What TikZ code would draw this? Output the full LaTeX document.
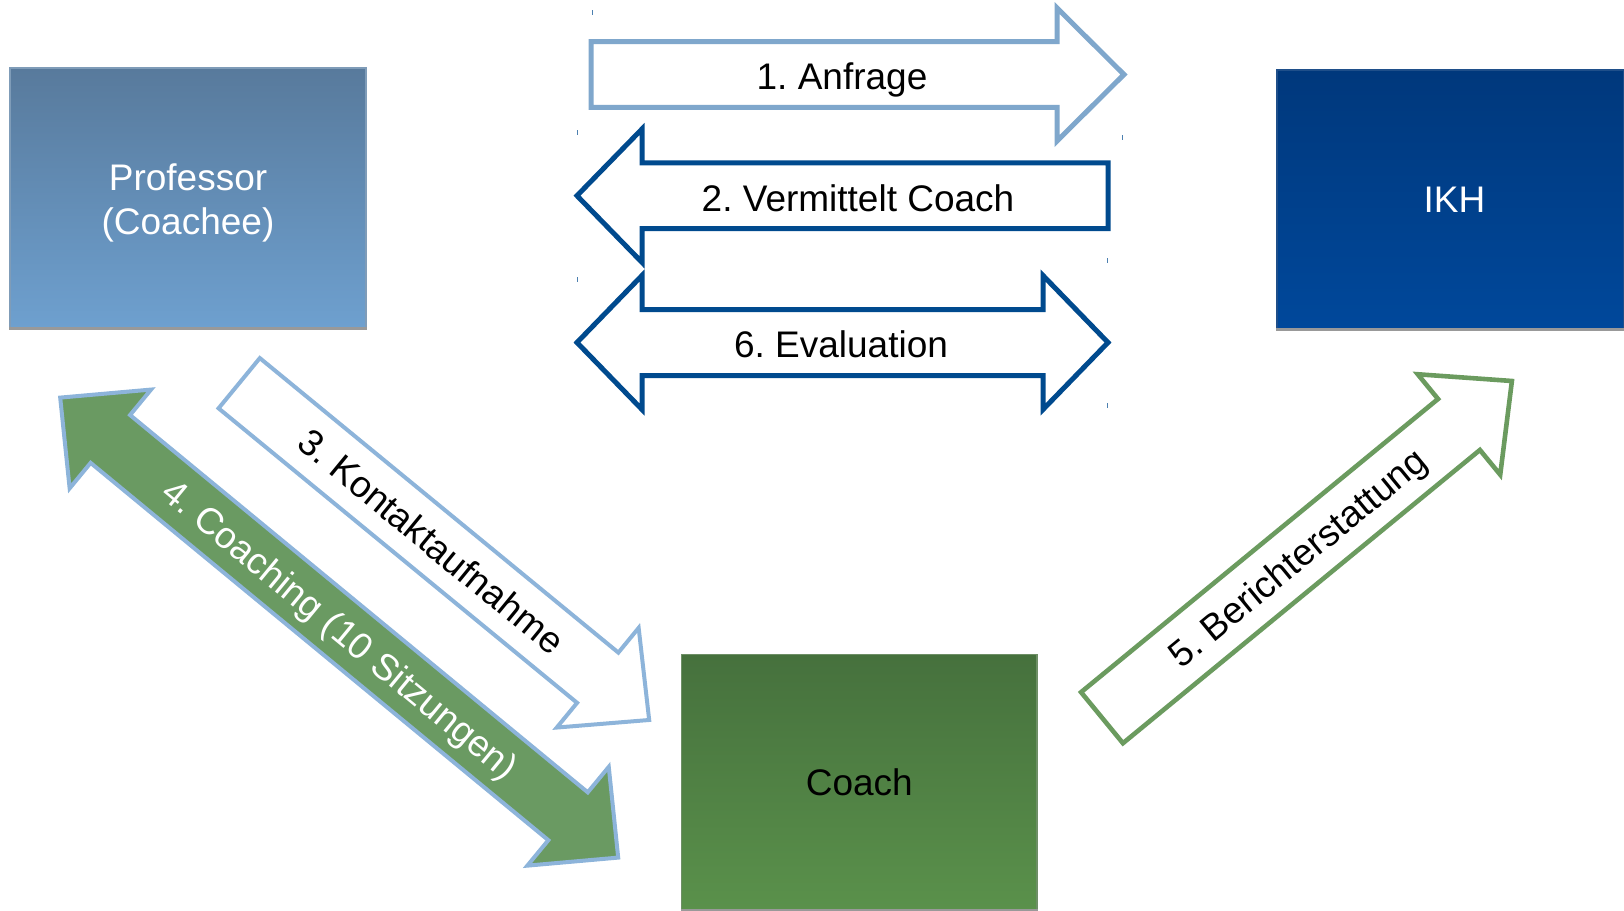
\documentclass[tikz,border=0pt]{standalone}
\usepackage{fontspec}
\setmainfont{Liberation Sans}

\definecolor{profTop}{HTML}{587A9C}
\definecolor{profBot}{HTML}{6EA0CF}
\definecolor{profEdge}{HTML}{7F9CB8}
\definecolor{ikhTop}{HTML}{00387C}
\definecolor{ikhBot}{HTML}{00489B}
\definecolor{ikhEdge}{HTML}{1F4F8A}
\definecolor{coachTop}{HTML}{46713D}
\definecolor{coachBot}{HTML}{5A914B}
\definecolor{coachEdge}{HTML}{6E8F66}
\definecolor{paleBlue}{HTML}{7FA7CC}
\definecolor{skyBlue}{HTML}{8DB4DA}
\definecolor{navy}{HTML}{004A8E}
\definecolor{leaf}{HTML}{6B9B5F}
\definecolor{leafFill}{HTML}{6A9A62}

\tikzset{
  every node/.style={font=\fontsize{18.5}{22.3}\selectfont},
  box/.style={rectangle, draw=#1, line width=0.6pt, inner sep=0pt},
  boxtext/.style={text=white, align=center, yshift=-2.5pt},
  shadowline/.style={draw=black!40, line width=1.5pt},
  lbl/.style={text height=13.2pt, text depth=0pt, inner sep=0pt},
  reqarrow/.style={draw=paleBlue, line width=2.5pt, fill=white},
  navyarrow/.style={draw=navy, line width=2.5pt, fill=white},
  contactarrow/.style={draw=skyBlue, line width=2pt, fill=white},
  sessionarrow/.style={draw=skyBlue, line width=2pt, fill=leafFill},
  reportarrow/.style={draw=leaf, line width=2.3pt, fill=white},
  tickmark/.style={draw=navy!70, line width=0.5pt}
}

\begin{document}
\frenchspacing
\begin{tikzpicture}[x=0.5pt,y=-0.5pt]
\useasboundingbox (0,0) rectangle (1624,911);

% the three parties
\node[box=profEdge, top color=profTop, bottom color=profBot, minimum width=178pt, minimum height=130pt,
  label={[boxtext]center:Professor\\(Coachee)}] (prof) at (188,198) {};
\node[box=ikhEdge, top color=ikhTop, bottom color=ikhBot, minimum width=173.5pt, minimum height=129.5pt,
  label={[boxtext, xshift=2pt, yshift=2.5pt]center:IKH}] (ikh) at (1450.5,199.5) {};
\node[box=coachEdge, top color=coachTop, bottom color=coachBot, minimum width=177.75pt, minimum height=127.7pt,
  label={[boxtext, text=black, yshift=2.5pt]center:Coach}] (coach) at (859.3,782.3) {};
\draw[shadowline] (prof.south west) -- (prof.south east);
\draw[shadowline] (ikh.south west) -- (ikh.south east);
\draw[shadowline] (coach.south west) -- (coach.south east);

% 1. Anfrage
\draw[reqarrow] (591,41.7) -- (1057,41.7) -- (1057,8) -- (1124,74.5) -- (1057,141) -- (1057,107.3) -- (591,107.3) -- cycle;
\node[lbl] (anfrage) at (842,76) {1. Anfrage};

% 2. Vermittelt Coach
\draw[navyarrow] (577,195.7) -- (642,129) -- (642,162.9) -- (1108,162.9) -- (1108,228.5) -- (642,228.5) -- (642,262.4) -- cycle;
\node[lbl] (vermittelt) at (858,198) {2. Vermittelt Coach};

% 6. Evaluation
\draw[navyarrow] (577,342.5) -- (642,275.5) -- (642,309.5) -- (1043,309.5) -- (1043,275.5) -- (1108,342.5) -- (1043,409.5) -- (1043,375.5) -- (642,375.5) -- (642,409.5) -- cycle;
\node[lbl] (evaluation) at (841,344) {6. Evaluation};

% 3. Kontaktaufnahme
\begin{scope}[shift={(239.2,383.2)}, rotate=-39.4]
  \draw[contactarrow] (0,-32.5) -- (464,-32.5) -- (464,-64.5) -- (530.6,0) -- (464,64.5) -- (464,32.5) -- (0,32.5) -- cycle;
  \node[lbl, transform shape] (kontakt) at (249,0) {3. Kontaktaufnahme};
\end{scope}

% 4. Coaching
\begin{scope}[shift={(339.2,627.6)}, rotate=-39.5]
  \draw[sessionarrow] (-361.6,0) -- (-296.6,-64) -- (-296.6,-31) -- (296.6,-31) -- (296.6,-64) -- (361.6,0) -- (296.6,64) -- (296.6,31) -- (-296.6,31) -- (-296.6,64) -- cycle;
  \node[lbl, transform shape, text=white] (coaching) at (2,0) {4. Coaching (10 Sitzungen)};
\end{scope}

% 5. Berichterstattung
\begin{scope}[shift={(1102,717.7)}, rotate=39.4]
  \draw[reportarrow] (0,-33) -- (462,-33) -- (462,-65) -- (530.5,0) -- (462,65) -- (462,33) -- (0,33) -- cycle;
  \node[lbl, transform shape] (bericht) at (253,0) {5. Berichterstattung};
\end{scope}

% small marks left over at the arrow corners
\foreach \t in {(592,10),(577,130),(1122,135),(577,277),(1107,258),(1107,403)}
  \draw[tickmark] \t -- ++(0,5);
\end{tikzpicture}
\end{document}
